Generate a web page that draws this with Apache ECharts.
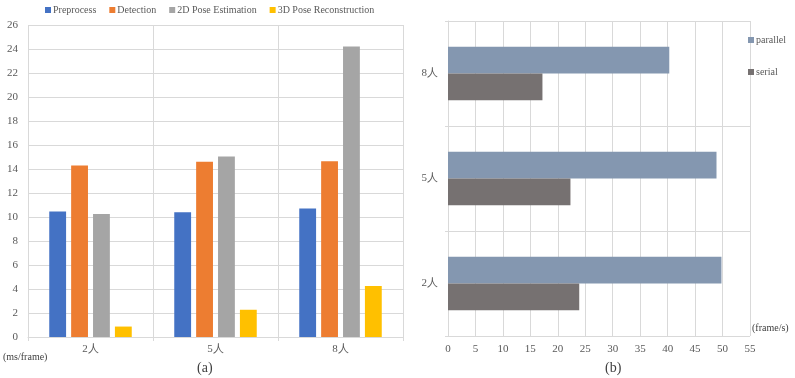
<!DOCTYPE html>
<html><head><meta charset="utf-8">
<script src="https://cdn.jsdelivr.net/npm/echarts@6/dist/echarts.min.js"></script>
<style>html,body{margin:0;padding:0;background:#fff}#c{width:795px;height:378px}</style>
</head><body><div id="c"></div>
<script>
const categoriesA = ['2人', '5人', '8人'];
const preprocess = [10.45, 10.4, 10.7];
const detection = [14.3, 14.6, 14.65];
const pose2d = [10.25, 15.05, 24.2];
const pose3d = [0.87, 2.27, 4.25];
const yTicksA = {min: 0, max: 26, interval: 2};

const categoriesB = ['2人', '5人', '8人'];
const parallel = [49.8, 48.9, 40.3];
const serial = [23.9, 22.3, 17.2];
const xTicksB = {min: 0, max: 55, interval: 5};

const FONT = 'Liberation Serif';
const grid = '#d9d9d9';
const txt = '#595959';

const chart = echarts.init(document.getElementById('c'), null, {renderer: 'canvas'});
const barA = (name, data, color) => ({
  name, type: 'bar', xAxisIndex: 0, yAxisIndex: 0, data,
  itemStyle: {color}, barGap: '30%', barCategoryGap: '34%'
});
const barB = (name, data, color) => ({
  name, type: 'bar', xAxisIndex: 1, yAxisIndex: 1, data,
  itemStyle: {color}, barGap: '0%', barCategoryGap: '49%'
});
chart.setOption({
  animation: false,
  textStyle: {fontFamily: FONT},
  grid: [
    {left: 28, right: 392, top: 25, bottom: 41},
    {left: 448, right: 45, top: 21, bottom: 42}
  ],
  legend: [
    {data: ['Preprocess', 'Detection', '2D Pose Estimation', '3D Pose Reconstruction'],
     left: 40, top: 0, itemWidth: 6, itemHeight: 6, itemGap: 13,
     icon: 'rect', textStyle: {fontFamily: FONT, fontSize: 10, color: txt, padding: [0,0,0,-3]}},
    {data: ['parallel', 'serial'], orient: 'vertical', left: 743, top: 30,
     itemWidth: 6, itemHeight: 6, itemGap: 22, icon: 'rect',
     textStyle: {fontFamily: FONT, fontSize: 10, color: txt, padding: [0,0,0,-3]}}
  ],
  xAxis: [
    {gridIndex: 0, type: 'category', data: categoriesA,
     axisLine: {lineStyle: {color: grid}}, axisTick: {show: true, length: 4, lineStyle: {color: grid}},
     splitLine: {show: true, lineStyle: {color: grid}},
     axisLabel: {color: txt, fontFamily: FONT, fontSize: 11, margin: 7}},
    {gridIndex: 1, type: 'value', min: xTicksB.min, max: xTicksB.max, interval: xTicksB.interval,
     axisLine: {show: false}, axisTick: {show: false},
     splitLine: {show: true, lineStyle: {color: grid}},
     axisLabel: {color: txt, fontFamily: FONT, fontSize: 11, margin: 8}}
  ],
  yAxis: [
    {gridIndex: 0, type: 'value', min: yTicksA.min, max: yTicksA.max, interval: yTicksA.interval,
     axisLine: {show: false}, axisTick: {show: false},
     splitLine: {show: true, lineStyle: {color: grid}},
     axisLabel: {color: txt, fontFamily: FONT, fontSize: 11, margin: 10}},
    {gridIndex: 1, type: 'category', data: categoriesB,
     axisLine: {show: true, lineStyle: {color: grid}}, axisTick: {show: true, length: 3, lineStyle: {color: grid}},
     splitLine: {show: true, lineStyle: {color: grid}},
     axisLabel: {color: txt, fontFamily: FONT, fontSize: 11, margin: 10}}
  ],
  graphic: [
    {type: 'text', left: 3, top: 352, style: {text: '(ms/frame)', fontFamily: FONT, fontSize: 10, fill: '#404040'}},
    {type: 'text', left: 197, top: 361, style: {text: '(a)', fontFamily: FONT, fontSize: 14, fill: '#404040'}},
    {type: 'text', left: 605, top: 361, style: {text: '(b)', fontFamily: FONT, fontSize: 14, fill: '#404040'}},
    {type: 'text', left: 752, top: 323, style: {text: '(frame/s)', fontFamily: FONT, fontSize: 10, fill: '#404040'}}
  ],
  series: [
    barA('Preprocess', preprocess, '#4472C4'),
    barA('Detection', detection, '#ED7D31'),
    barA('2D Pose Estimation', pose2d, '#A5A5A5'),
    barA('3D Pose Reconstruction', pose3d, '#FFC000'),
    barB('parallel', parallel, '#8497B0'),
    barB('serial', serial, '#767171')
  ]
});
</script></body></html>
